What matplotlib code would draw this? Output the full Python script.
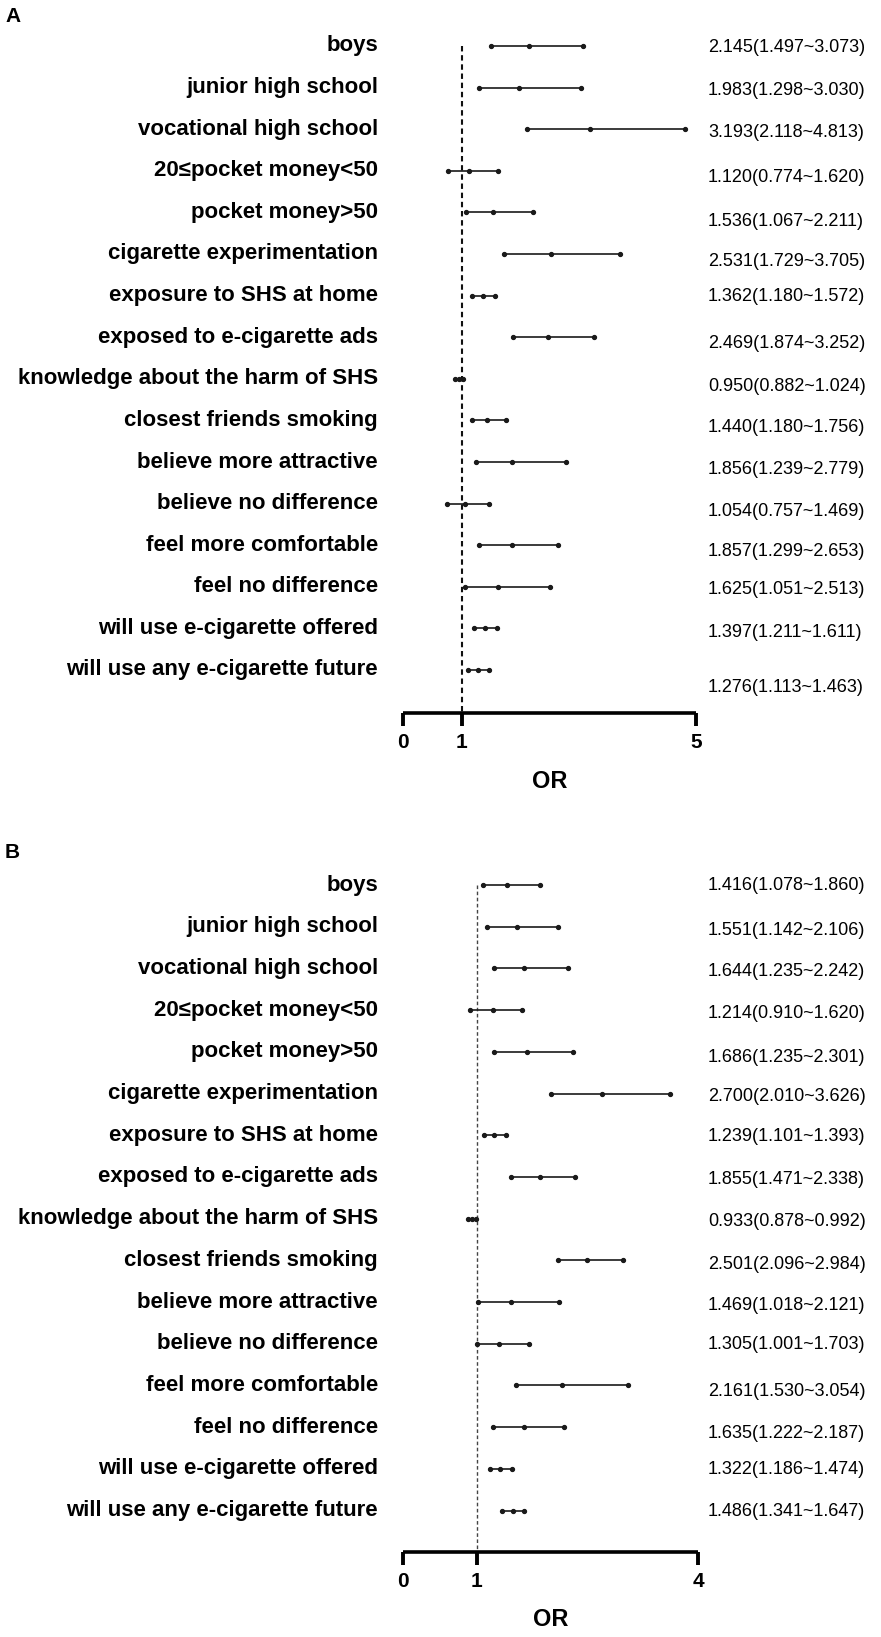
import matplotlib
matplotlib.use("Agg")
import matplotlib.pyplot as plt

plt.rcParams["font.family"] = ["Liberation Sans", "DejaVu Sans"]

# row labels (same for both panels)
factors = ["boys", "junior high school", "vocational high school", "20≤pocket money<50",
           "pocket money>50", "cigarette experimentation", "exposure to SHS at home",
           "exposed to e-cigarette ads", "knowledge about the harm of SHS",
           "closest friends smoking", "believe more attractive", "believe no difference",
           "feel more comfortable", "feel no difference", "will use e-cigarette offered",
           "will use any e-cigarette future"]

# panel A: odds ratio and 95% CI
or_a = [2.145, 1.983, 3.193, 1.120, 1.536, 2.531, 1.362, 2.469, 0.950, 1.440, 1.856, 1.054, 1.857, 1.625, 1.397, 1.276]
lo_a = [1.497, 1.298, 2.118, 0.774, 1.067, 1.729, 1.180, 1.874, 0.882, 1.180, 1.239, 0.757, 1.299, 1.051, 1.211, 1.113]
hi_a = [3.073, 3.030, 4.813, 1.620, 2.211, 3.705, 1.572, 3.252, 1.024, 1.756, 2.779, 1.469, 2.653, 2.513, 1.611, 1.463]

# panel B
or_b = [1.416, 1.551, 1.644, 1.214, 1.686, 2.700, 1.239, 1.855, 0.933, 2.501, 1.469, 1.305, 2.161, 1.635, 1.322, 1.486]
lo_b = [1.078, 1.142, 1.235, 0.910, 1.235, 2.010, 1.101, 1.471, 0.878, 2.096, 1.018, 1.001, 1.530, 1.222, 1.186, 1.341]
hi_b = [1.860, 2.106, 2.242, 1.620, 2.301, 3.626, 1.393, 2.338, 0.992, 2.984, 2.121, 1.703, 3.054, 2.187, 1.474, 1.647]

ticks_a = [0, 1, 5]
ticks_b = [0, 1, 4]

# small vertical nudges (pixels) of the right-hand text, as in the original figure
nudge_a = [1, 3, 3, 7, 9, 8, 1, 6, 8, 7, 8, 8, 6, 3, 4, 17]
nudge_b = [1, 4, 3, 3, 6, 3, 1, 3, 3, 4, 3, 1, 6, 6, 1, 1]

W, H = 881, 1637
fig = plt.figure(figsize=(W / 100, H / 100), dpi=100)


def panel(top_px, row_px, axis_px, right_px, xmax, ors, los, his, ticks, nudge, letter, letter_y, dash_lw, dash_col):
    n = len(factors)
    ybot = (axis_px - top_px) / row_px
    ax_top = top_px - row_px
    ax = fig.add_axes([403 / W, 1 - axis_px / H, (right_px - 403) / W, (axis_px - ax_top) / H])
    ax.set_xlim(0, xmax)
    ax.set_ylim(ybot, -1)
    rows = list(range(n))

    ax.vlines(1, 0, ybot, colors=dash_col, linestyles=(0, (2.6, 1.8)), linewidth=dash_lw, zorder=1)
    for i in rows:
        ax.plot([los[i], his[i]], [i, i], color="#1a1a1a", linewidth=1.2, zorder=2)
        ax.plot([los[i], ors[i], his[i]], [i, i, i], linestyle="none", marker="o",
                markersize=2.8, color="#1a1a1a", zorder=3)

    tr = ax.get_yaxis_transform()
    for i in rows:
        ax.text(-25 / (right_px - 403), i, factors[i], transform=tr, ha="right", va="center",
                fontsize=16, fontweight="bold", clip_on=False)
        txt = "%.3f(%.3f~%.3f)" % (ors[i], los[i], his[i])
        ax.text((708 - 403) / (right_px - 403), i + nudge[i] / row_px, txt, transform=tr,
                ha="left", va="center", fontsize=13, clip_on=False)

    for s in ["left", "top", "right"]:
        ax.spines[s].set_visible(False)
    ax.spines["bottom"].set_linewidth(2.6)
    ax.spines["bottom"].set_capstyle("butt")
    ax.set_yticks([])
    ax.set_xticks(ticks)
    ax.set_xticklabels([str(t) for t in ticks], fontsize=15, fontweight="bold")
    ax.tick_params(axis="x", direction="out", length=9.5, width=2.8, pad=5)
    ax.text(0.5, ybot + 68 / row_px, "OR", transform=tr, ha="center", va="center",
            fontsize=17, fontweight="bold", clip_on=False)
    fig.text(5 / W, 1 - letter_y / H, letter, ha="left", va="center", fontsize=15, fontweight="bold")
    return ax


panel(46, 41.6, 713, 696, 5, or_a, lo_a, hi_a, ticks_a, nudge_a, "A", 17, 1.5, "#111111")
panel(885, 41.7, 1552, 698, 4, or_b, lo_b, hi_b, ticks_b, nudge_b, "B", 852, 1.0, "#444444")

fig.savefig("out.png", dpi=100, facecolor="white")
